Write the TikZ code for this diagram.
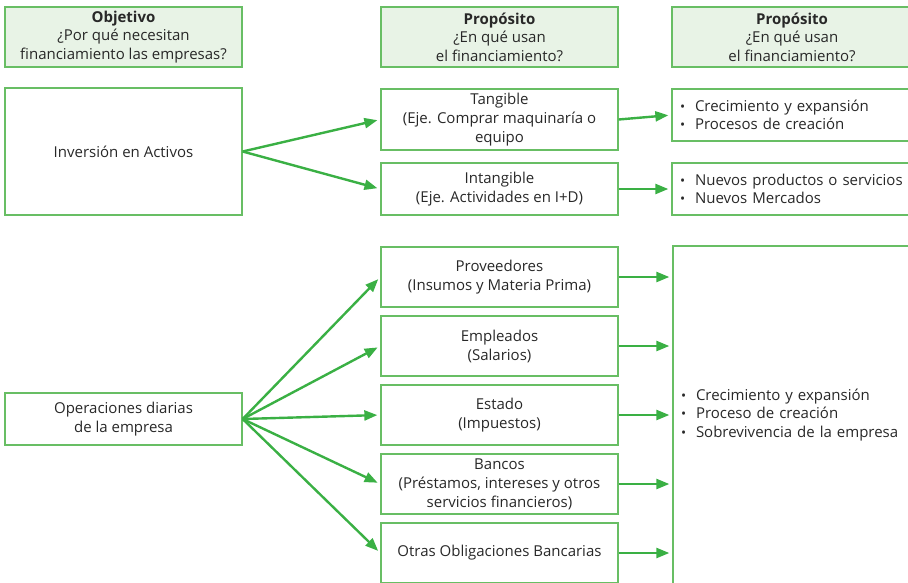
\documentclass[tikz,border=0pt]{standalone}
\usepackage{fontspec}
\setmainfont{Open Sans}
\usetikzlibrary{arrows.meta,positioning}
\definecolor{boxgreen}{RGB}{104,190,100}
\definecolor{arrgreen}{RGB}{58,176,68}
\definecolor{headfill}{RGB}{232,243,230}
\definecolor{txtgray}{RGB}{40,40,40}
\newcommand{\itm}{\makebox[15pt][l]{\scalebox{0.9}{\textbullet}}}

\begin{document}
\begin{tikzpicture}[x=1pt,y=-1pt,
    box/.style={draw=boxgreen,line width=1.3pt,minimum width=237pt,align=center,text=txtgray,font=\fontsize{15}{19}\selectfont,inner sep=1pt},
    header/.style={box,fill=headfill,minimum height=60pt,font=\fontsize{15}{18.5}\selectfont},
    listbox/.style={draw=boxgreen,line width=1.3pt,text width=232pt,inner xsep=8pt,align=left,text=txtgray,font=\fontsize{15}{18.5}\selectfont},
    arr/.style={-{Triangle[length=13pt,width=10pt]},line width=2.4pt,arrgreen,shorten >=3pt}
  ]
    \useasboundingbox (0,0) rectangle (908,582);

    % Headers
    \node[header] (h1) at (123.5,37) {\textbf{Objetivo}\\¿Por qué necesitan\\financiamiento las empresas?};
    \node[header] (h2) at (499.5,37) {\textbf{Propósito}\\¿En qué usan\\el financiamiento?};
    \node[header,minimum width=248pt] (h3) at (796,37) {\hspace*{-8pt}\textbf{Propósito}\\\hspace*{-8pt}¿En qué usan\\\hspace*{-8pt}el financiamiento?};

    % Inversion en activos
    \node[box,minimum height=127pt] (inv) at (123.5,151.5) {Inversión en Activos};
    \node[box,minimum height=61pt] (tang) at (499.5,119.5) {Tangible\\(Eje. Comprar maquinaría o\\equipo};
    \node[box,minimum height=52pt] (intang) at (499.5,189) {Intangible\\(Eje. Actividades en I+D)};
    \node[listbox,minimum height=52pt] (r1) at (796,115) {\itm Crecimiento y expansión\\\itm Procesos de creación};
    \node[listbox,minimum height=52pt] (r2) at (796,189) {\itm Nuevos productos o servicios\\\itm Nuevos Mercados};

    % Operaciones diarias
    \node[box,minimum height=52pt] (ops) at (123.5,419) {Operaciones diarias\\de la empresa};
    \node[box,minimum height=60pt] (prov) at (499.5,277) {Proveedores\\(Insumos y Materia Prima)};
    \node[box,minimum height=60pt] (empl) at (499.5,346) {Empleados\\(Salarios)};
    \node[box,minimum height=60pt] (est) at (499.5,415) {Estado\\(Impuestos)};
    \node[box,minimum height=60pt] (banc) at (499.5,484) {Bancos\\(Préstamos, intereses y otros\\servicios financieros)};
    \node[box,minimum height=60pt] (otras) at (499.5,553) {Otras Obligaciones Bancarias};
    \node[listbox,minimum height=338pt] (big) at (797,415) {\itm Crecimiento y expansión\\\itm Proceso de creación\\\itm Sobrevivencia de la empresa};

    % Arrows
    \draw[arr] (inv.east) -- (tang.west);
    \draw[arr] (inv.east) -- (intang.west);
    \draw[arr] (tang.east) -- (r1.west);
    \draw[arr] (intang.east) -- (r2.west);
    \foreach \n in {prov,empl,est,banc,otras} {
      \draw[arr] (ops.east) -- (\n.west);
      \draw[arr] (\n.east) -- (\n.east -| big.west);
    }
  \end{tikzpicture}
\end{document}
